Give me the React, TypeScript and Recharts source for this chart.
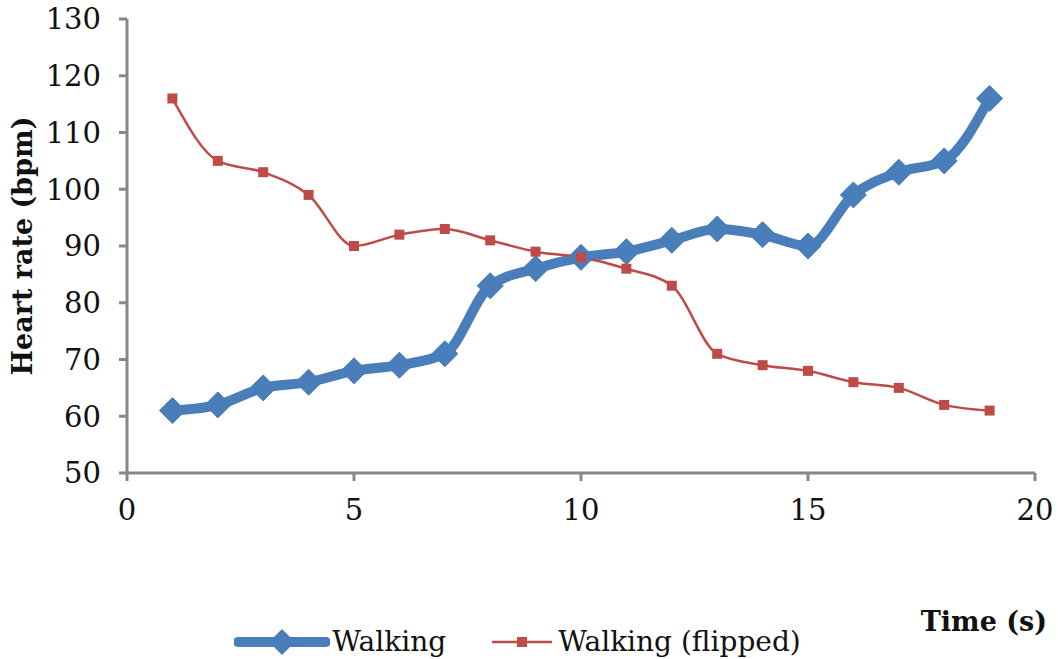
import React from 'react';
import { LineChart, Line, XAxis, YAxis, Legend } from 'recharts';

const seconds = [1, 2, 3, 4, 5, 6, 7, 8, 9, 10, 11, 12, 13, 14, 15, 16, 17, 18, 19];
const walking = [61, 62, 65, 66, 68, 69, 71, 83, 86, 88, 89, 91, 93, 92, 90, 99, 103, 105, 116];
const walkingFlipped = [116, 105, 103, 99, 90, 92, 93, 91, 89, 88, 86, 83, 71, 69, 68, 66, 65, 62, 61];
const xTicks = [0, 5, 10, 15, 20];
const yTicks = [50, 60, 70, 80, 90, 100, 110, 120, 130];

const BLUE = '#4a7ebb';
const RED = '#be4b48';
const AXIS = '#878787';
const FONT = '"DejaVu Serif", "Liberation Serif", serif';

const data = seconds.map((t, i) => ({ t, walking: walking[i], flipped: walkingFlipped[i] }));

function Diamond(props: any) {
  const { cx, cy, index } = props;
  if (cx == null || cy == null) return null;
  const r = 13;
  return (
    <path
      key={`d-${index}`}
      d={`M${cx},${cy - r}L${cx + r},${cy}L${cx},${cy + r}L${cx - r},${cy}Z`}
      fill={BLUE}
      stroke={BLUE}
    />
  );
}

function Square(props: any) {
  const { cx, cy, index } = props;
  if (cx == null || cy == null) return null;
  const s = 5;
  return <rect key={`s-${index}`} x={cx - s} y={cy - s} width={s * 2} height={s * 2} fill={RED} />;
}

function LegendContent() {
  return (
    <div style={{ display: 'flex', justifyContent: 'center', alignItems: 'center', fontFamily: FONT, fontSize: 28, color: '#111', paddingTop: 6 }}>
      <svg width={96} height={30} style={{ marginRight: 2 }}>
        <line x1={4} y1={15} x2={92} y2={15} stroke={BLUE} strokeWidth={10} strokeLinecap="round" />
        <path d="M48,2L61,15L48,28L35,15Z" fill={BLUE} />
      </svg>
      <span style={{ marginRight: 44 }}>Walking</span>
      <svg width={64} height={30} style={{ marginRight: 4 }}>
        <line x1={2} y1={15} x2={62} y2={15} stroke={RED} strokeWidth={2.5} />
        <rect x={27} y={10} width={10} height={10} fill={RED} />
      </svg>
      <span>Walking (flipped)</span>
    </div>
  );
}

export default function App() {
  return (
    <div style={{ position: 'absolute', left: 0, top: 0, background: '#fff' }}>
      <LineChart width={1058} height={659} data={data} margin={{ top: 19, right: 23, bottom: 0, left: 0 }}>
        <XAxis
          dataKey="t"
          type="number"
          domain={[0, 20]}
          ticks={xTicks}
          height={146}
          stroke={AXIS}
          strokeWidth={3}
          tickSize={8}
          tickMargin={18}
          tick={{ fill: '#111', fontSize: 29, fontFamily: FONT }}
          label={{
            value: 'Time (s)',
            position: 'insideBottomRight',
            offset: 0,
            dx: 12,
            dy: 12,
            style: { fill: '#111', fontSize: 27, fontWeight: 'bold', fontFamily: FONT },
          }}
        />
        <YAxis
          type="number"
          domain={[50, 130]}
          ticks={yTicks}
          width={127}
          stroke={AXIS}
          strokeWidth={3}
          tickSize={8}
          tickMargin={18}
          tick={{ fill: '#111', fontSize: 29, fontFamily: FONT }}
          label={{
            value: 'Heart rate (bpm)',
            angle: -90,
            position: 'center',
            dx: -41,
            style: { fill: '#111', fontSize: 27, fontWeight: 'bold', fontFamily: FONT, textAnchor: 'middle' },
          }}
        />
        <Legend
          verticalAlign="bottom"
          height={40}
          wrapperStyle={{ height: 40 }}
          content={<LegendContent />}
        />
        <Line
          type="monotone"
          dataKey="walking"
          name="Walking"
          stroke={BLUE}
          strokeWidth={10}
          dot={<Diamond />}
          activeDot={false}
          isAnimationActive={false}
        />
        <Line
          type="monotone"
          dataKey="flipped"
          name="Walking (flipped)"
          stroke={RED}
          strokeWidth={2.5}
          dot={<Square />}
          activeDot={false}
          isAnimationActive={false}
        />
      </LineChart>
    </div>
  );
}
